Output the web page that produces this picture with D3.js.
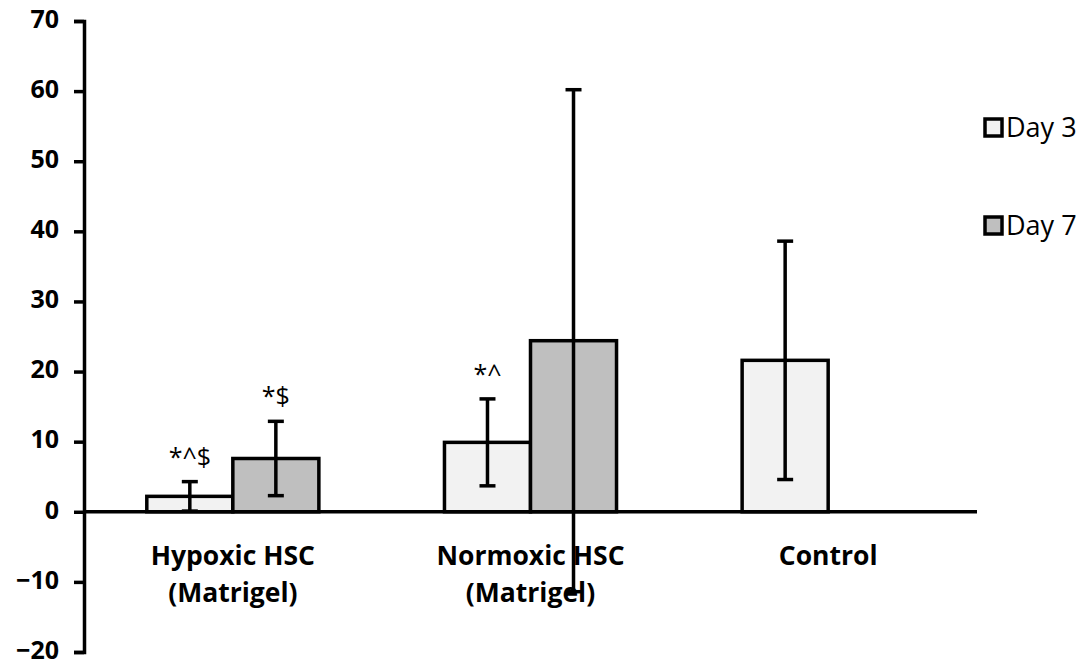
<!DOCTYPE html>
<html>
<head>
<meta charset="utf-8">
<script src="https://cdn.jsdelivr.net/npm/d3@7"></script>
<style>
  body { margin: 0; background: #fff; }
  text { font-family: "Open Sans", sans-serif; fill: #000; }
</style>
</head>
<body>
<div class="chart"></div>
<script>
// data
const categories = [['Hypoxic HSC', '(Matrigel)'], ['Normoxic HSC', '(Matrigel)'], ['Control']];
const series = ['Day 3', 'Day 7'];
const day3 = [2.2, 9.9, 21.6];
const day3Err = [2.1, 6.2, 17.0];
const day7 = [7.6, 24.4, null];
const day7Err = [5.3, 35.8, null];
const marks3 = ['*^$', '*^', ''];
const marks7 = ['*$', '', ''];
const yTicks = [-20, -10, 0, 10, 20, 30, 40, 50, 60, 70];
const colors = ['#f2f2f2', '#bfbfbf'];

const width = 1087;
const height = 666;

const svg = d3.select('.chart')
  .append('svg')
  .attr('width', width)
  .attr('height', height);

const catKeys = categories.map(c => c.join(' '));

const xScale = d3.scaleBand()
  .domain(catKeys)
  .range([84, 977])
  .paddingInner(0)
  .paddingOuter(0);

const xSub = d3.scaleBand()
  .domain(series)
  .range([0, xScale.bandwidth()])
  .paddingInner(0)
  .paddingOuter(0.73);

const yScale = d3.scaleLinear()
  .domain([-20, 70])
  .range([652, 21]);

// y axis
const yAxis = d3.axisLeft(yScale)
  .tickValues(yTicks)
  .tickSize(10)
  .tickSizeOuter(10)
  .tickPadding(15)
  .tickFormat(d3.format('d'));

const gy = svg.append('g')
  .attr('class', 'axis y-axis')
  .attr('transform', 'translate(84,0)')
  .call(yAxis);
gy.selectAll('path, line').attr('stroke', '#000').attr('stroke-width', 3.5);
gy.selectAll('text')
  .attr('font-size', 25)
  .attr('font-weight', 'bold')
  .attr('font-family', '"Open Sans", sans-serif')
  .attr('dy', '0.25em')
  .attr('fill', '#000');

// flatten into bar rows
const rows = [];
catKeys.forEach((c, i) => {
  rows.push({cat: c, s: 'Day 3', v: day3[i], e: day3Err[i], m: marks3[i], fill: colors[0]});
  if (day7[i] != null) {
    rows.push({cat: c, s: 'Day 7', v: day7[i], e: day7Err[i], m: marks7[i], fill: colors[1]});
  }
});

// bars
svg.selectAll('rect.bar')
  .data(rows)
  .enter()
  .append('rect')
  .attr('class', 'bar')
  .attr('x', d => xScale(d.cat) + xSub(d.s))
  .attr('y', d => yScale(d.v))
  .attr('width', xSub.bandwidth())
  .attr('height', d => yScale(0) - yScale(d.v))
  .attr('fill', d => d.fill)
  .attr('stroke', '#000')
  .attr('stroke-width', 3.5);

// x axis line at zero
svg.append('line')
  .attr('x1', 84)
  .attr('x2', 977)
  .attr('y1', yScale(0))
  .attr('y2', yScale(0))
  .attr('stroke', '#000')
  .attr('stroke-width', 3.5);

// category labels
categories.forEach((lines, i) => {
  const t = svg.append('text')
    .attr('x', xScale(catKeys[i]) + xScale.bandwidth() / 2)
    .attr('y', 565)
    .attr('text-anchor', 'middle')
    .attr('font-size', 26.5)
    .attr('font-weight', 'bold');
  lines.forEach((l, j) => {
    t.append('tspan')
      .attr('x', xScale(catKeys[i]) + xScale.bandwidth() / 2)
      .attr('dy', j === 0 ? 0 : 37)
      .text(l);
  });
});

// error bars (drawn over the labels)
const cx = d => xScale(d.cat) + xSub(d.s) + xSub.bandwidth() / 2;
const err = svg.selectAll('g.err')
  .data(rows)
  .enter()
  .append('g')
  .attr('class', 'err')
  .attr('stroke', '#000')
  .attr('stroke-width', 3.5);

err.append('line')
  .attr('x1', cx).attr('x2', cx)
  .attr('y1', d => yScale(d.v + d.e))
  .attr('y2', d => yScale(d.v - d.e));
err.append('line')
  .attr('x1', d => cx(d) - 8).attr('x2', d => cx(d) + 8)
  .attr('y1', d => yScale(d.v + d.e))
  .attr('y2', d => yScale(d.v + d.e));
err.append('line')
  .attr('x1', d => cx(d) - 8).attr('x2', d => cx(d) + 8)
  .attr('y1', d => yScale(d.v - d.e))
  .attr('y2', d => yScale(d.v - d.e));

// significance marks
svg.selectAll('text.mark')
  .data(rows.filter(d => d.m))
  .enter()
  .append('text')
  .attr('class', 'mark')
  .attr('x', cx)
  .attr('y', d => yScale(d.v + d.e) - 16)
  .attr('text-anchor', 'middle')
  .attr('font-size', 25)
  .text(d => d.m);

// legend
const legend = svg.selectAll('g.legend')
  .data(series)
  .enter()
  .append('g')
  .attr('class', 'legend')
  .attr('transform', (d, i) => `translate(985, ${119 + i * 98})`);

legend.append('rect')
  .attr('width', 17)
  .attr('height', 17)
  .attr('fill', (d, i) => colors[i])
  .attr('stroke', '#000')
  .attr('stroke-width', 3.5);

legend.append('text')
  .attr('x', 21)
  .attr('y', 18)
  .attr('font-size', 27)
  .text(d => d);
</script>
</body>
</html>
